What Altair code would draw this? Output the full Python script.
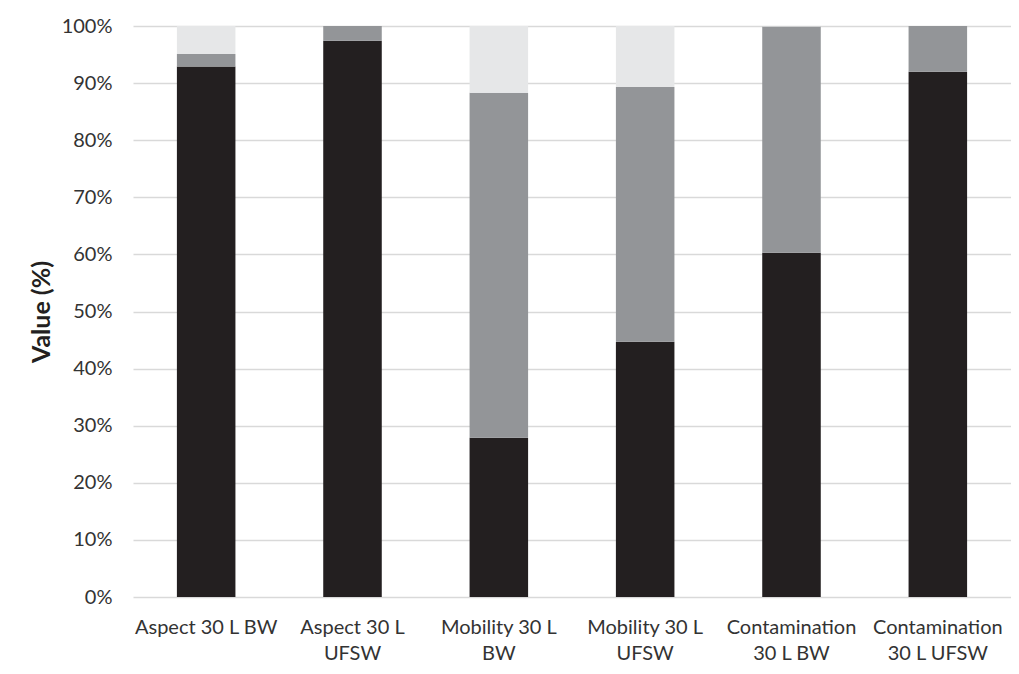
import altair as alt
import pandas as pd

categories = [
    "Aspect 30 L BW",
    "Aspect 30 L\nUFSW",
    "Mobility 30 L\nBW",
    "Mobility 30 L\nUFSW",
    "Contamination\n30 L BW",
    "Contamination\n30 L UFSW",
]
series = ["S1", "S2", "S3"]
s1 = [92.9, 97.4, 27.9, 44.7, 60.3, 92.0]
s2 = [2.2, 2.6, 60.4, 44.6, 39.6, 8.0]
s3 = [4.9, 0.0, 11.7, 10.7, 0.1, 0.0]
colors = ["#231f20", "#939598", "#e6e7e8"]

rows = []
for i, c in enumerate(categories):
    for k, (name, vals) in enumerate(zip(series, [s1, s2, s3])):
        rows.append({"cat": c, "series": name, "order": k, "value": vals[i] / 100.0})
df = pd.DataFrame(rows)

chart = (
    alt.Chart(df)
    .mark_bar()
    .encode(
        x=alt.X(
            "cat:N",
            sort=categories,
            scale=alt.Scale(paddingInner=0.6, paddingOuter=0.3),
            axis=alt.Axis(
                title=None,
                labelAngle=0,
                labelExpr="split(datum.label, '\\n')",
                labelFont="Lato",
                labelFontSize=20,
                labelLineHeight=26,
                labelColor="#333333",
                labelPadding=20,
                ticks=False,
                domain=False,
                grid=False,
            ),
        ),
        y=alt.Y(
            "value:Q",
            stack="zero",
            scale=alt.Scale(domain=[0, 1], nice=False),
            axis=alt.Axis(
                title="Value (%)",
                format=".0%",
                values=[i / 10 for i in range(11)],
                labelFont="Lato",
                labelFontSize=20,
                labelColor="#333333",
                labelPadding=21,
                titleFont="Lato",
                titleFontSize=25,
                titleFontWeight="bold",
                titleColor="#231f20",
                titlePadding=7,
                ticks=False,
                domain=False,
                gridColor="#d9d9d9",
                gridWidth=1.5,
            ),
        ),
        color=alt.Color(
            "series:N",
            scale=alt.Scale(domain=series, range=colors),
            legend=None,
        ),
        order=alt.Order("order:Q", sort="ascending"),
    )
    .properties(
        width=878,
        height=571,
        autosize=alt.AutoSizeParams(type="none"),
        padding={"left": 125, "top": 18, "right": 0, "bottom": 68},
    )
    .configure_view(stroke=None)
)

chart.save("out.html", embed_options={"renderer": "svg", "actions": False})
